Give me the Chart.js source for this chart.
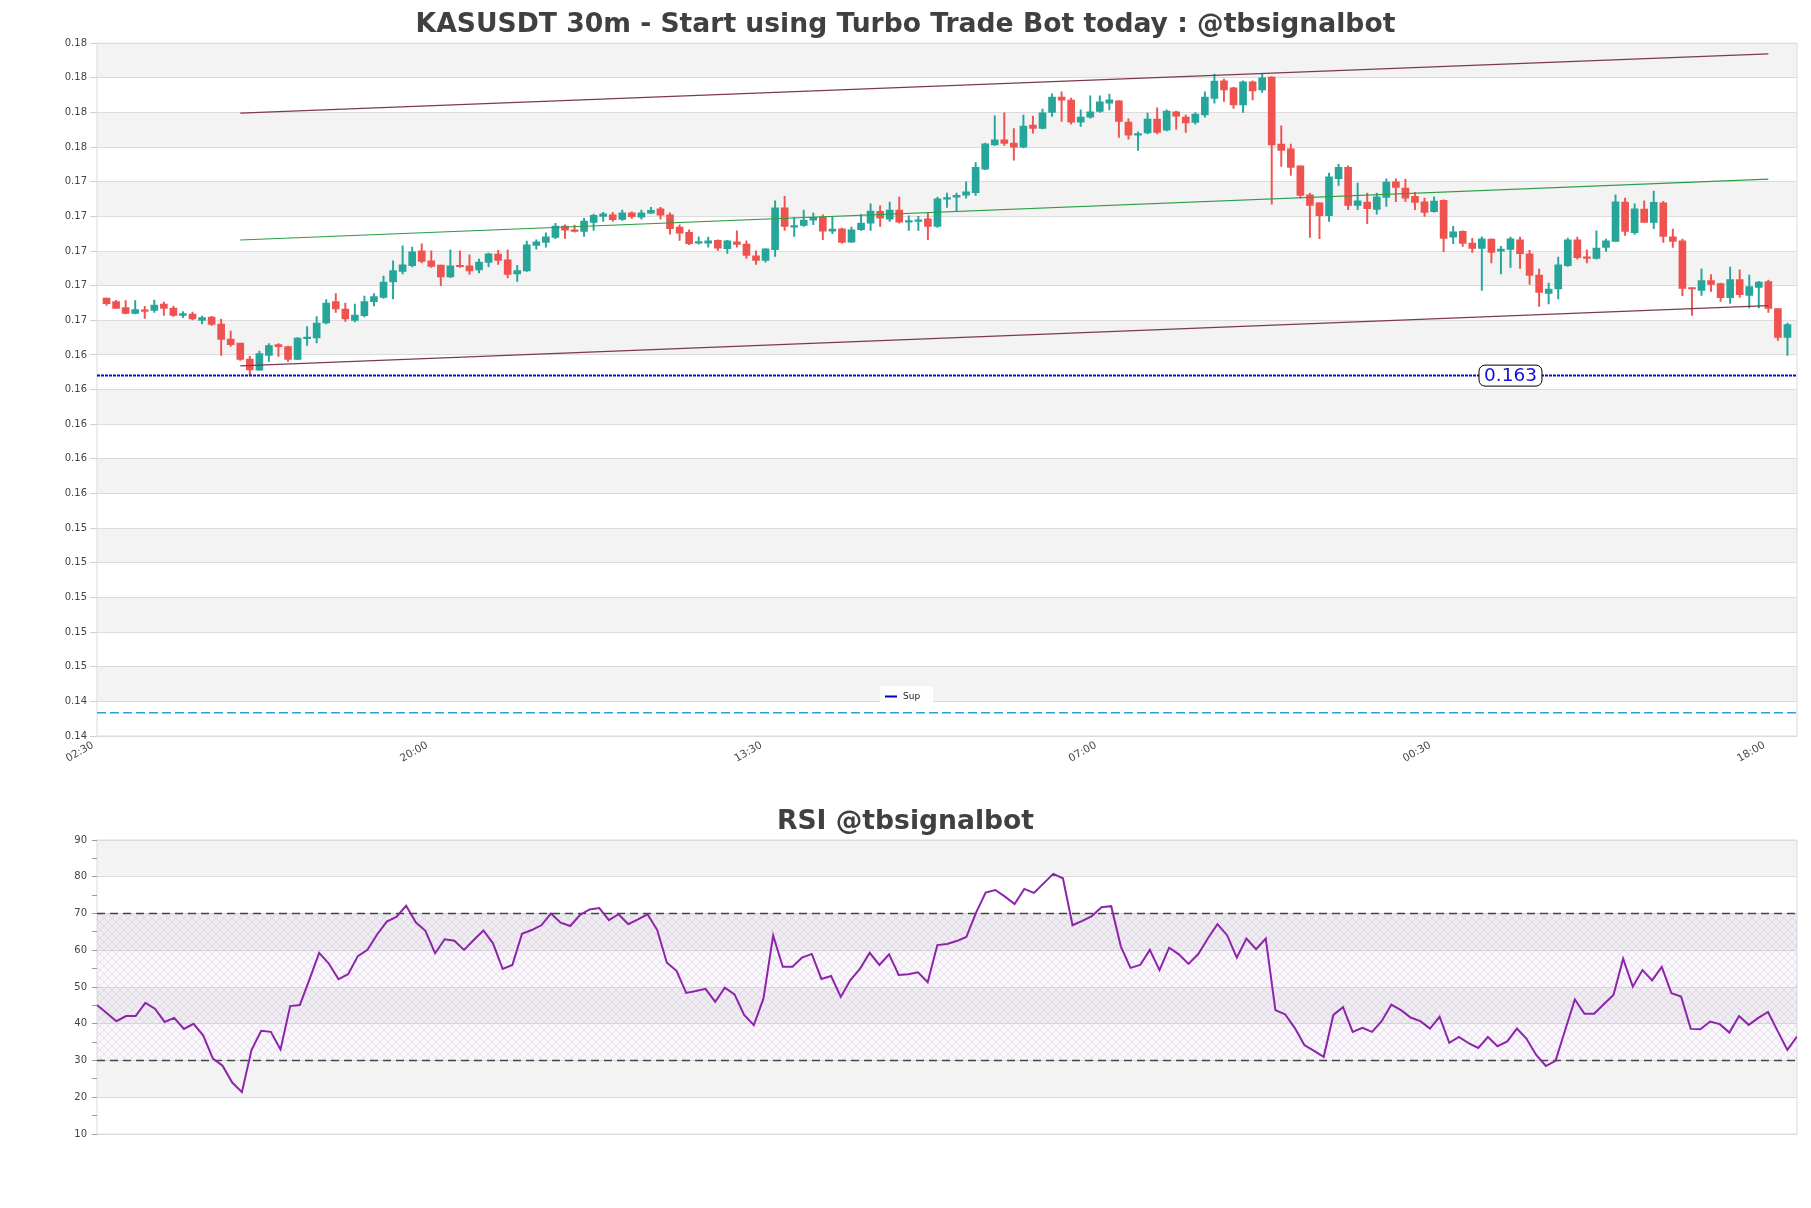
<!DOCTYPE html>
<html>
<head>
<meta charset="utf-8">
<script src="https://cdn.jsdelivr.net/npm/chart.js@4.4.0/dist/chart.umd.min.js"></script>
<style>
  html, body { margin: 0; padding: 0; background: #fff; }
  #wrap { position: relative; width: 1811px; height: 1208px; }
  #mainBox { position: absolute; left: 0; top: 0; width: 1811px; height: 770px; }
  #rsiBox { position: absolute; left: 0; top: 790px; width: 1811px; height: 418px; }
</style>
</head>
<body>
<div id="wrap">
  <div id="mainBox"><canvas id="priceChart" width="1811" height="770"></canvas></div>
  <div id="rsiBox"><canvas id="rsiChart" width="1811" height="418"></canvas></div>
</div>
<script>
// candle data (30m)
const opens = [0.16770,0.16748,0.16712,0.16678,0.16696,0.16696,0.16734,0.16710,0.16666,0.16674,
  0.16636,0.16656,0.16614,0.16524,0.16500,0.16404,0.16336,0.16426,0.16490,0.16478,
  0.16402,0.16526,0.16530,0.16620,0.16748,0.16704,0.16636,0.16664,0.16748,0.16774,
  0.16866,0.16930,0.16964,0.17054,0.16994,0.16968,0.16896,0.16964,0.16964,0.16938,
  0.16984,0.17034,0.17000,0.16914,0.16932,0.17086,0.17104,0.17134,0.17202,0.17176,
  0.17170,0.17224,0.17260,0.17270,0.17242,0.17282,0.17256,0.17280,0.17306,0.17270,
  0.17196,0.17164,0.17100,0.17100,0.17116,0.17066,0.17108,0.17094,0.17024,0.16996,
  0.17060,0.17312,0.17196,0.17206,0.17238,0.17258,0.17172,0.17186,0.17106,0.17180,
  0.17220,0.17290,0.17244,0.17298,0.17226,0.17230,0.17246,0.17200,0.17364,0.17376,
  0.17388,0.17402,0.17544,0.17690,0.17720,0.17700,0.17676,0.17808,0.17788,0.17884,
  0.17976,0.17958,0.17826,0.17856,0.17890,0.17940,0.17954,0.17826,0.17748,0.17762,
  0.17844,0.17778,0.17888,0.17856,0.17824,0.17870,0.17968,0.18074,0.18032,0.17930,
  0.18068,0.18020,0.18096,0.17694,0.17666,0.17564,0.17390,0.17342,0.17264,0.17486,
  0.17554,0.17326,0.17346,0.17302,0.17374,0.17468,0.17430,0.17380,0.17348,0.17288,
  0.17356,0.17136,0.17170,0.17100,0.17068,0.17124,0.17052,0.17062,0.17120,0.17036,
  0.16908,0.16798,0.16824,0.16964,0.17120,0.17016,0.17008,0.17074,0.17110,0.17346,
  0.17162,0.17304,0.17224,0.17342,0.17138,0.17114,0.16832,0.16816,0.16874,0.16856,
  0.16772,0.16880,0.16786,0.16834,0.16868,0.16706,0.16534];
const highs = [0.16770,0.16756,0.16754,0.16754,0.16720,0.16758,0.16746,0.16722,0.16688,0.16686,
  0.16662,0.16660,0.16644,0.16572,0.16500,0.16420,0.16452,0.16496,0.16496,0.16482,
  0.16532,0.16598,0.16658,0.16760,0.16796,0.16740,0.16734,0.16782,0.16796,0.16902,
  0.16994,0.17084,0.17076,0.17096,0.17054,0.16968,0.17060,0.17054,0.17030,0.17004,
  0.17040,0.17056,0.17060,0.16966,0.17112,0.17120,0.17162,0.17218,0.17210,0.17208,
  0.17248,0.17274,0.17284,0.17284,0.17298,0.17288,0.17298,0.17314,0.17314,0.17282,
  0.17210,0.17180,0.17138,0.17136,0.17120,0.17116,0.17174,0.17114,0.17054,0.17066,
  0.17354,0.17380,0.17254,0.17298,0.17280,0.17270,0.17256,0.17190,0.17196,0.17272,
  0.17336,0.17324,0.17346,0.17376,0.17264,0.17260,0.17282,0.17376,0.17400,0.17400,
  0.17468,0.17584,0.17700,0.17864,0.17882,0.17788,0.17868,0.17862,0.17904,0.17996,
  0.18008,0.17970,0.17900,0.17984,0.17984,0.17994,0.17956,0.17846,0.17768,0.17880,
  0.17912,0.17900,0.17892,0.17868,0.17884,0.18008,0.18114,0.18084,0.18036,0.18074,
  0.18074,0.18114,0.18100,0.17804,0.17694,0.17564,0.17400,0.17342,0.17520,0.17574,
  0.17564,0.17460,0.17400,0.17400,0.17486,0.17486,0.17484,0.17404,0.17370,0.17378,
  0.17360,0.17200,0.17174,0.17128,0.17138,0.17126,0.17080,0.17136,0.17136,0.17056,
  0.16944,0.16860,0.17016,0.17130,0.17136,0.17060,0.17174,0.17124,0.17390,0.17370,
  0.17336,0.17354,0.17412,0.17350,0.17184,0.17124,0.16832,0.16946,0.16910,0.16860,
  0.16956,0.16940,0.16908,0.16870,0.16878,0.16706,0.16620];
const lows = [0.16726,0.16708,0.16674,0.16674,0.16648,0.16684,0.16666,0.16660,0.16652,0.16638,
  0.16614,0.16606,0.16426,0.16480,0.16396,0.16306,0.16336,0.16390,0.16420,0.16390,
  0.16400,0.16486,0.16500,0.16614,0.16684,0.16630,0.16626,0.16656,0.16722,0.16768,
  0.16764,0.16914,0.16956,0.16980,0.16954,0.16844,0.16892,0.16954,0.16912,0.16920,
  0.16956,0.16972,0.16890,0.16870,0.16930,0.17064,0.17076,0.17126,0.17128,0.17166,
  0.17140,0.17176,0.17230,0.17230,0.17236,0.17248,0.17244,0.17276,0.17244,0.17154,
  0.17116,0.17090,0.17094,0.17076,0.17056,0.17038,0.17076,0.17008,0.16972,0.16986,
  0.17020,0.17176,0.17140,0.17200,0.17210,0.17120,0.17156,0.17100,0.17104,0.17176,
  0.17176,0.17200,0.17230,0.17220,0.17176,0.17176,0.17120,0.17194,0.17314,0.17290,
  0.17370,0.17386,0.17540,0.17686,0.17686,0.17598,0.17672,0.17760,0.17786,0.17860,
  0.17830,0.17814,0.17800,0.17850,0.17884,0.17900,0.17734,0.17724,0.17656,0.17756,
  0.17756,0.17774,0.17782,0.17764,0.17814,0.17856,0.17940,0.17950,0.17908,0.17884,
  0.17960,0.18004,0.17334,0.17560,0.17506,0.17370,0.17134,0.17126,0.17230,0.17446,
  0.17300,0.17300,0.17216,0.17274,0.17320,0.17348,0.17348,0.17300,0.17260,0.17286,
  0.17048,0.17096,0.17080,0.17044,0.16816,0.16980,0.16914,0.16954,0.16948,0.16852,
  0.16720,0.16734,0.16764,0.16960,0.17004,0.16980,0.17004,0.17050,0.17110,0.17146,
  0.17152,0.17224,0.17186,0.17104,0.17074,0.16784,0.16666,0.16786,0.16810,0.16750,
  0.16738,0.16774,0.16710,0.16710,0.16684,0.16516,0.16426];
const closes = [0.16736,0.16708,0.16678,0.16700,0.16690,0.16728,0.16708,0.16666,0.16676,0.16644,
  0.16652,0.16612,0.16522,0.16490,0.16402,0.16338,0.16436,0.16484,0.16478,0.16402,
  0.16530,0.16530,0.16620,0.16740,0.16704,0.16644,0.16668,0.16748,0.16778,0.16866,
  0.16934,0.16970,0.17048,0.16990,0.16960,0.16896,0.16964,0.16958,0.16932,0.16986,
  0.17036,0.16996,0.16912,0.16934,0.17090,0.17108,0.17138,0.17202,0.17178,0.17170,
  0.17232,0.17266,0.17276,0.17240,0.17282,0.17258,0.17282,0.17296,0.17268,0.17186,
  0.17160,0.17096,0.17108,0.17114,0.17070,0.17114,0.17092,0.17026,0.16996,0.17066,
  0.17312,0.17200,0.17202,0.17238,0.17254,0.17172,0.17184,0.17104,0.17180,0.17220,
  0.17292,0.17250,0.17298,0.17226,0.17232,0.17238,0.17200,0.17366,0.17370,0.17386,
  0.17408,0.17554,0.17696,0.17720,0.17698,0.17676,0.17802,0.17788,0.17882,0.17976,
  0.17958,0.17826,0.17856,0.17888,0.17948,0.17960,0.17830,0.17748,0.17758,0.17844,
  0.17764,0.17892,0.17862,0.17822,0.17874,0.17976,0.18072,0.18020,0.17930,0.18068,
  0.18014,0.18092,0.17690,0.17656,0.17554,0.17386,0.17326,0.17264,0.17498,0.17554,
  0.17326,0.17354,0.17306,0.17378,0.17466,0.17434,0.17370,0.17344,0.17284,0.17352,
  0.17128,0.17168,0.17098,0.17068,0.17126,0.17044,0.17064,0.17126,0.17036,0.16906,
  0.16804,0.16824,0.16970,0.17120,0.17012,0.17008,0.17070,0.17114,0.17348,0.17170,
  0.17306,0.17224,0.17344,0.17140,0.17110,0.16828,0.16824,0.16874,0.16852,0.16772,
  0.16880,0.16790,0.16838,0.16866,0.16708,0.16534,0.16610];

// RSI values
const rsiValues = [45.1,42.9,40.7,42.1,42.1,45.7,44.1,40.5,41.6,38.6,
  40.0,36.8,30.5,28.6,24.0,21.4,32.9,38.1,37.8,33.0,
  44.8,45.1,52.1,59.3,56.4,52.1,53.5,58.4,60.1,64.3,
  67.8,69.1,72.1,67.6,65.3,59.2,63.0,62.6,60.1,62.8,
  65.4,61.9,54.9,56.0,64.5,65.5,66.8,70.0,67.5,66.6,
  69.6,71.1,71.5,68.2,69.8,67.1,68.4,69.8,65.5,56.6,
  54.4,48.4,48.9,49.5,46.0,49.8,48.0,42.4,39.6,46.9,
  64.0,55.5,55.5,58.0,59.0,52.2,53.0,47.3,51.9,55.0,
  59.3,56.0,58.9,53.3,53.5,54.0,51.3,61.4,61.7,62.5,
  63.6,70.2,75.7,76.4,74.6,72.6,76.7,75.6,78.2,80.8,
  79.6,66.8,68.0,69.3,71.7,72.0,61.0,55.2,56.0,60.1,
  54.6,60.7,58.9,56.3,58.9,63.2,67.1,64.1,58.0,63.2,
  60.3,63.2,43.7,42.6,38.9,34.2,32.6,31.0,42.4,44.5,
  37.8,38.9,37.8,40.7,45.2,43.7,41.7,40.7,38.7,41.9,
  34.8,36.4,34.7,33.4,36.4,33.9,35.2,38.7,35.9,31.5,
  28.5,29.9,38.3,46.6,42.7,42.7,45.3,47.8,57.7,50.1,
  54.6,51.8,55.5,48.3,47.4,38.6,38.5,40.6,39.9,37.6,
  42.1,39.7,41.6,43.2,38.0,32.9,36.5];

// axis ticks
const xTickPos = [-1, 34, 69, 104, 139, 174];
const xTickLabels = ["02:30", "20:00", "13:30", "07:00", "00:30", "18:00"];
const yTicks = [0.183, 0.18092, 0.17884, 0.17676, 0.17468, 0.1726, 0.17052, 0.16844, 0.16636,
  0.16428, 0.1622, 0.16012, 0.15804, 0.15596, 0.15388, 0.1518, 0.14972, 0.14764, 0.14556,
  0.14348, 0.1414];

// trend channel (start / end candle and price)
const channelX = [14, 174];
const upperLine = [0.17880, 0.18236];
const midLine = [0.17118, 0.17484];
const lowerLine = [0.16362, 0.16724];
const supLevel = 0.16304;
const lowLevel = 0.14280;
const supLabelX = 147;

const rsiOver = 70;
const rsiUnder = 30;

const upColor = "#26a69a";
const downColor = "#ef5350";

Chart.defaults.font.family = "'DejaVu Sans', sans-serif";
Chart.defaults.color = "#444";

const candleColors = closes.map((c, i) => (c >= opens[i] ? upColor : downColor));

function linePts(xs, ys) {
  return xs.map((x, i) => ({ x: x, y: ys[i] }));
}

// empty axis on the right, keeps the plot off the edge but lets the title centre on the canvas
const rightGap = {
  position: "right",
  display: true,
  grid: { display: false },
  border: { display: false },
  ticks: { display: false },
  afterFit: (s) => { s.width = 14; }
};

// grey bands between every other grid line
const priceBands = {
  id: "priceBands",
  beforeDraw(chart) {
    const { ctx, chartArea } = chart;
    const y = chart.scales.y;
    ctx.save();
    ctx.fillStyle = "#f3f3f3";
    for (let k = 0; k < yTicks.length - 1; k += 2) {
      const y1 = y.getPixelForValue(yTicks[k]);
      const y2 = y.getPixelForValue(yTicks[k + 1]);
      ctx.fillRect(chartArea.left, y1, chartArea.right - chartArea.left, y2 - y1);
    }
    ctx.strokeStyle = "#dcdcdc";
    ctx.lineWidth = 1;
    ctx.strokeRect(chartArea.left, chartArea.top, chartArea.right - chartArea.left, chartArea.bottom - chartArea.top);
    ctx.restore();
  },
  afterDatasetsDraw(chart) {
    const { ctx, chartArea } = chart;
    const x = chart.scales.x;
    const y = chart.scales.y;
    ctx.save();
    // support label
    const txt = supLevel.toFixed(3);
    ctx.font = "18.5px 'DejaVu Sans'";
    const w = ctx.measureText(txt).width + 10;
    const h = 21;
    const cx = x.getPixelForValue(supLabelX);
    const cy = y.getPixelForValue(supLevel);
    ctx.beginPath();
    ctx.roundRect(cx - w / 2, cy - h / 2, w, h, 6);
    ctx.fillStyle = "#fff";
    ctx.fill();
    ctx.strokeStyle = "#000";
    ctx.lineWidth = 1;
    ctx.stroke();
    ctx.fillStyle = "#1010d8";
    ctx.textAlign = "center";
    ctx.textBaseline = "middle";
    ctx.fillText(txt, cx, cy + 1);

    // legend
    const lx = chartArea.left + 783;
    const ly = chartArea.bottom - 50;
    ctx.fillStyle = "rgba(255,255,255,0.9)";
    ctx.beginPath();
    ctx.roundRect(lx, ly, 53, 20, 3);
    ctx.fill();
    ctx.strokeStyle = "#0000cc";
    ctx.lineWidth = 2;
    ctx.beginPath();
    ctx.moveTo(lx + 5, ly + 10.5);
    ctx.lineTo(lx + 17, ly + 10.5);
    ctx.stroke();
    ctx.fillStyle = "#222";
    ctx.font = "9px 'DejaVu Sans'";
    ctx.textAlign = "left";
    ctx.fillText("Sup", lx + 23, ly + 10.5);
    ctx.restore();
  }
};

const priceChart = new Chart(document.getElementById("priceChart"), {
  type: "bar",
  data: {
    datasets: [
      {
        label: "wick",
        data: lows.map((l, i) => ({ x: i, y: [l, highs[i]] })),
        backgroundColor: candleColors,
        barThickness: 1.3,
        grouped: false,
        order: 3
      },
      {
        label: "body",
        data: opens.map((o, i) => ({ x: i, y: [o, closes[i]] })),
        backgroundColor: candleColors,
        barThickness: 7,
        minBarLength: 1.5,
        grouped: false,
        order: 2
      },
      {
        type: "line",
        label: "upper",
        data: linePts(channelX, upperLine),
        borderColor: "#7d3a4c",
        borderWidth: 1.2,
        pointRadius: 0,
        order: 1
      },
      {
        type: "line",
        label: "mid",
        data: linePts(channelX, midLine),
        borderColor: "#2e9e44",
        borderWidth: 1.1,
        pointRadius: 0,
        order: 1
      },
      {
        type: "line",
        label: "lower",
        data: linePts(channelX, lowerLine),
        borderColor: "#7d3a4c",
        borderWidth: 1.2,
        pointRadius: 0,
        order: 1
      },
      {
        type: "line",
        label: "Sup",
        data: [{ x: -1, y: supLevel }, { x: 177, y: supLevel }],
        borderColor: "#0a0ad0",
        borderWidth: 2,
        borderDash: [3, 1],
        pointRadius: 0,
        order: 0
      },
      {
        type: "line",
        label: "low",
        data: [{ x: -1, y: lowLevel }, { x: 177, y: lowLevel }],
        borderColor: "#2a9fd6",
        borderWidth: 1.5,
        borderDash: [9, 4],
        pointRadius: 0,
        order: 0
      }
    ]
  },
  options: {
    responsive: false,
    animation: false,
    devicePixelRatio: 1,
    layout: { padding: 0 },
    plugins: {
      legend: { display: false },
      tooltip: { enabled: false },
      title: {
        display: true,
        text: "KASUSDT 30m - Start using Turbo Trade Bot today : @tbsignalbot",
        color: "#404040",
        font: { size: 26.6, weight: "bold" },
        padding: { top: 9.5, bottom: 1.8 }
      }
    },
    scales: {
      x: {
        type: "linear",
        min: -1,
        max: 177,
        offset: false,
        grid: { display: false, offset: false },
        border: { display: false },
        afterBuildTicks: (s) => { s.ticks = xTickPos.map((v) => ({ value: v })); },
        afterFit: (s) => { s.height = 34; },
        ticks: {
          autoSkip: false,
          minRotation: 30,
          maxRotation: 30,
          padding: -5,
          labelOffset: -4,
          color: "#444",
          font: { size: 10.5 },
          callback: (v) => xTickLabels[xTickPos.indexOf(v)]
        }
      },
      y: {
        min: 0.1414,
        max: 0.183,
        afterBuildTicks: (s) => { s.ticks = yTicks.map((v) => ({ value: v })); },
        afterFit: (s) => { s.width = 97; },
        border: { display: false },
        grid: { color: "#dcdcdc", tickLength: 7, tickColor: "#d0d0d0" },
        ticks: {
          padding: 3,
          color: "#444",
          font: { size: 10 },
          callback: (v) => Number(v).toFixed(2)
        }
      },
      gap: rightGap
    }
  },
  plugins: [priceBands]
});

// RSI panel
function makeHatch() {
  const c = document.createElement("canvas");
  c.width = 8;
  c.height = 8;
  const g = c.getContext("2d");
  g.fillStyle = "rgba(205,180,225,0.10)";
  g.fillRect(0, 0, 8, 8);
  g.strokeStyle = "rgba(160,130,180,0.30)";
  g.lineWidth = 0.6;
  g.beginPath();
  g.moveTo(0, 0); g.lineTo(8, 8);
  g.moveTo(8, 0); g.lineTo(0, 8);
  g.stroke();
  return g.createPattern(c, "repeat");
}

const rsiBands = {
  id: "rsiBands",
  beforeDraw(chart) {
    const { ctx, chartArea } = chart;
    const y = chart.scales.y;
    ctx.save();
    ctx.fillStyle = "#f3f3f3";
    for (let v = 90; v > 10; v -= 20) {
      const y1 = y.getPixelForValue(v);
      const y2 = y.getPixelForValue(v - 10);
      ctx.fillRect(chartArea.left, y1, chartArea.right - chartArea.left, y2 - y1);
    }
    ctx.strokeStyle = "#dcdcdc";
    ctx.lineWidth = 1;
    ctx.strokeRect(chartArea.left, chartArea.top, chartArea.right - chartArea.left, chartArea.bottom - chartArea.top);
    ctx.restore();
  }
};

const rsiX = rsiValues.map((_, i) => i);
const lastX = rsiValues.length - 1;

const rsiChart = new Chart(document.getElementById("rsiChart"), {
  type: "line",
  data: {
    datasets: [
      {
        label: "over",
        data: [{ x: 0, y: rsiOver }, { x: lastX, y: rsiOver }],
        borderColor: "#444",
        borderWidth: 1.4,
        borderDash: [8, 5],
        pointRadius: 0,
        fill: false,
        order: 2
      },
      {
        label: "under",
        data: [{ x: 0, y: rsiUnder }, { x: lastX, y: rsiUnder }],
        borderColor: "#444",
        borderWidth: 1.4,
        borderDash: [8, 5],
        pointRadius: 0,
        fill: "-1",
        backgroundColor: makeHatch(),
        order: 2
      },
      {
        label: "RSI",
        data: rsiValues.map((v, i) => ({ x: rsiX[i], y: v })),
        borderColor: "#8e24aa",
        borderWidth: 2,
        pointRadius: 0,
        tension: 0,
        fill: false,
        order: 1
      }
    ]
  },
  options: {
    responsive: false,
    animation: false,
    devicePixelRatio: 1,
    layout: { padding: { left: 0, right: 0, top: 0, bottom: 74 } },
    plugins: {
      legend: { display: false },
      tooltip: { enabled: false },
      title: {
        display: true,
        text: "RSI @tbsignalbot",
        color: "#404040",
        font: { size: 26.6, weight: "bold" },
        padding: { top: 16.5, bottom: 1.6 }
      }
    },
    scales: {
      x: { type: "linear", min: 0, max: lastX, display: false },
      y: {
        min: 10,
        max: 90,
        afterFit: (s) => { s.width = 97; },
        border: { display: false },
        grid: {
          color: (c) => (c.tick && c.tick.value % 10 === 0 ? "#dcdcdc" : "rgba(0,0,0,0)"),
          tickColor: "#999",
          tickLength: 5
        },
        ticks: {
          stepSize: 5,
          padding: 5,
          color: "#444",
          font: { size: 10 },
          callback: (v) => (v % 10 === 0 ? v : "")
        }
      },
      gap: rightGap
    }
  },
  plugins: [rsiBands]
});
</script>
</body>
</html>
